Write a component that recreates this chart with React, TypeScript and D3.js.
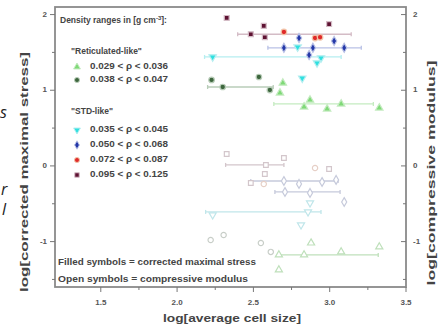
import React from 'react';
import * as d3 from 'd3';

// ---------- data ----------
const seriesLabels = [
  '0.029 < ρ < 0.036',
  '0.038 < ρ < 0.047',
  '0.035 < ρ < 0.045',
  '0.050 < ρ < 0.068',
  '0.072 < ρ < 0.087',
  '0.095 < ρ < 0.125',
];
const groupTitles = ['"Reticulated-like"', '"STD-like"'];

// [log cell size, log value, (optional) x error low, x error high]
const stress0029 = [[2.693, 1.096], [2.674, 0.964], [2.871, 0.871], [2.832, 0.78], [2.983, 0.753], [3.075, 0.819, 2.634, 3.286], [3.325, 0.766]];
const stress0038 = [[2.226, 1.136], [2.299, 1.043, 2.2, 2.63], [2.536, 1.175], [2.608, 1.003]];
const stress0035 = [[2.943, 1.426], [2.917, 1.36], [2.82, 1.16], [2.233, 1.44, 2.18, 3.075], [2.79, 1.57]];
const stress0050 = [[2.799, 1.69], [3.029, 1.65], [3.095, 1.56], [2.70, 1.56], [2.89, 1.56, 2.595, 3.207], [2.865, 1.466]];
const stress0072 = [[2.904, 1.69], [2.937, 1.70], [2.70, 1.77]];
const stress0095 = [[2.325, 1.955], [2.568, 1.85], [2.575, 1.70], [2.483, 1.74, 2.397, 3.141], [2.996, 1.875]];

const modulus0029 = [[2.878, -1.018], [2.667, -1.176, 2.66, 3.318], [2.832, -1.176], [3.075, -1.136], [3.325, -1.07], [2.667, -1.374]];
const modulus0038 = [[2.305, -0.912], [2.22, -0.978], [2.549, -1.018], [2.614, -1.136]];
const modulus0035 = [[2.871, -0.489], [2.858, -0.608, 2.187, 2.943], [2.812, -0.78], [2.233, -0.648]];
const modulus0050 = [[2.70, -0.199, 2.483, 3.055], [2.799, -0.238], [2.95, -0.212], [3.042, -0.185], [2.871, -0.357], [3.095, -0.476], [2.707, -0.344, 2.641, 3.068]];
const modulus0072 = [[2.904, -0.027], [2.568, -0.238]];
const modulus0095 = [[2.325, 0.158], [2.70, 0.105], [2.582, 0.013, 2.318, 2.70], [2.575, -0.106], [2.996, -0.04], [2.483, -0.225]];

const stressSeries = [stress0029, stress0038, stress0035, stress0050, stress0072, stress0095];
const modulusSeries = [modulus0029, modulus0038, modulus0035, modulus0050, modulus0072, modulus0095];

const xTicks = [1.5, 2.0, 2.5, 3.0, 3.5];
const xMinorTicks = [1.75, 2.25, 2.75, 3.25];
const yTicks = [2, 1, 0, -1];
const yMinorTicks = [1.5, 0.5, -0.5, -1.5];

// ---------- styles ----------
const colors = ['#7fd977', '#3d663d', '#2fe0e0', '#2438a8', '#e02a2a', '#5e1232'];
const paleColors = ['#c4ebc0', '#b9cdb9', '#b6eef0', '#b9c1e6', '#f2c3a8', '#d4bcc6'];
const openColors = ['#bfe0bb', '#c8cec8', '#c0e6ea', '#c6cadb', '#e6cfc6', '#d3c6cb'];
const symbolTypes = [d3.symbolTriangle, d3.symbolCircle, d3.symbolTriangle, d3.symbolDiamond, d3.symbolCircle, d3.symbolSquare];
const symbolRot = [0, 0, 180, 0, 0, 0];

const W = 442, H = 329;
const L = 55, R = 406, T = 7, B = 287;

export default function App() {
  const x = d3.scaleLinear().domain([1.2, 3.5]).range([L, R]);
  const y = d3.scaleLinear().domain([-1.6, 2.1]).range([B, T]);
  const sym = (i: number, size: number) => d3.symbol().type(symbolTypes[i]).size(size)() as string;
  const font = '"Liberation Sans", Arial, sans-serif';

  const legendRows = [67, 80, 130, 145, 160, 175];

  return (
    <svg width={W} height={H} style={{ position: 'absolute', left: 0, top: 0, background: '#fff' }} fontFamily={font}>
      {/* stray fragments at left edge */}
      <g fontFamily='"Open Sans", sans-serif' fontStyle="italic" fontSize={16} fill="#222">
        <text x={0} y={118}>s</text>
        <text x={1} y={195}>r</text>
        <text x={2} y={215}>l</text>
      </g>

      {/* error bars */}
      <g>
        {[...stressSeries.map((s, i) => ({ s, i, open: false })), ...modulusSeries.map((s, i) => ({ s, i, open: true }))].map(({ s, i, open }) =>
          s.filter(p => p.length > 2).map((p, k) => (
            <g key={`e${open}${i}${k}`} stroke={open ? openColors[i] : paleColors[i]} strokeWidth={1.3}>
              <line x1={x(p[2])} x2={x(p[3])} y1={y(p[1])} y2={y(p[1])} />
              <line x1={x(p[2])} x2={x(p[2])} y1={y(p[1]) - 2} y2={y(p[1]) + 2} />
              <line x1={x(p[3])} x2={x(p[3])} y1={y(p[1]) - 2} y2={y(p[1]) + 2} />
            </g>
          ))
        )}
      </g>

      {/* open symbols */}
      {modulusSeries.map((s, i) =>
        s.map((p, k) => (
          <path key={`o${i}${k}`} d={sym(i, 22)} transform={`translate(${x(p[0])},${y(p[1])}) rotate(${symbolRot[i]})`}
            fill="#fff" stroke={openColors[i]} strokeWidth={1.2} />
        ))
      )}

      {/* filled symbols */}
      {stressSeries.map((s, i) =>
        s.map((p, k) => (
          <path key={`f${i}${k}`} d={sym(i, 24)} transform={`translate(${x(p[0])},${y(p[1])}) rotate(${symbolRot[i]})`}
            fill={colors[i]} stroke={paleColors[i]} strokeWidth={1.2} />
        ))
      )}

      {/* frame */}
      <rect x={L} y={T} width={R - L} height={B - T} fill="none" stroke="#8a8a8a" strokeWidth={1.8} />

      {/* ticks */}
      <g stroke="#777" strokeWidth={1}>
        {xTicks.map(t => <line key={`xt${t}`} x1={x(t)} x2={x(t)} y1={B} y2={B + 5} />)}
        {xMinorTicks.map(t => <line key={`xm${t}`} x1={x(t)} x2={x(t)} y1={B} y2={B + 3} />)}
        {yTicks.map(t => <line key={`yt${t}`} x1={L - 5} x2={L} y1={y(t)} y2={y(t)} />)}
        {yMinorTicks.map(t => <line key={`ym${t}`} x1={L - 3} x2={L} y1={y(t)} y2={y(t)} />)}
        {yTicks.map(t => <line key={`yr${t}`} x1={R} x2={R - 5} y1={y(t)} y2={y(t)} />)}
        {yMinorTicks.map(t => <line key={`yrm${t}`} x1={R} x2={R - 3} y1={y(t)} y2={y(t)} />)}
      </g>
      <g fontSize={8} fontWeight="bold" fill="#555">
        {xTicks.map(t => <text key={`xl${t}`} x={x(t)} y={303} textAnchor="middle" dominantBaseline="middle">{t.toFixed(1)}</text>)}
        {yTicks.map(t => <text key={`yl${t}`} x={L - 8} y={y(t)} textAnchor="end" dominantBaseline="middle">{t}</text>)}
        {yTicks.map(t => <text key={`yrl${t}`} x={R + 7} y={y(t)} textAnchor="start" dominantBaseline="middle">{t}</text>)}
      </g>

      {/* axis titles */}
      <g fontWeight="bold" fill="#444">
        <text x={232} y={319} fontSize={11} textAnchor="middle" dominantBaseline="middle" textLength={138} lengthAdjust="spacingAndGlyphs">log[average cell size]</text>
        <text transform="translate(25,172) rotate(-90)" fontSize={10.5} textAnchor="middle" dominantBaseline="middle" textLength={240} lengthAdjust="spacingAndGlyphs">log[corrected maximal stress]</text>
        <text transform="translate(432,173) rotate(-90)" fontSize={10.5} textAnchor="middle" dominantBaseline="middle" textLength={225} lengthAdjust="spacingAndGlyphs">log[compressive modulus]</text>
      </g>

      {/* legend */}
      <g fontSize={8.5} fontWeight="bold" fill="#444">
        <text x={60} y={21} dominantBaseline="middle">Density ranges in [g cm<tspan dy={-3} fontSize={6}>-3</tspan><tspan dy={3}>]:</tspan></text>
        <text x={71} y={52} dominantBaseline="middle">{groupTitles[0]}</text>
        <text x={71} y={112} dominantBaseline="middle">{groupTitles[1]}</text>
        {seriesLabels.map((lab, i) => (
          <g key={`lg${i}`}>
            <path d={sym(i, 20)} transform={`translate(77,${legendRows[i]}) rotate(${symbolRot[i]})`} fill={colors[i]} stroke={paleColors[i]} strokeWidth={1} />
            <text x={90} y={legendRows[i]} dominantBaseline="middle" textLength={78} lengthAdjust="spacingAndGlyphs">{lab}</text>
          </g>
        ))}
        <text x={58} y={263} dominantBaseline="middle" textLength={198} lengthAdjust="spacingAndGlyphs">Filled symbols = corrected maximal stress</text>
        <text x={58} y={280} dominantBaseline="middle" textLength={190} lengthAdjust="spacingAndGlyphs">Open symbols = compressive modulus</text>
      </g>
    </svg>
  );
}
